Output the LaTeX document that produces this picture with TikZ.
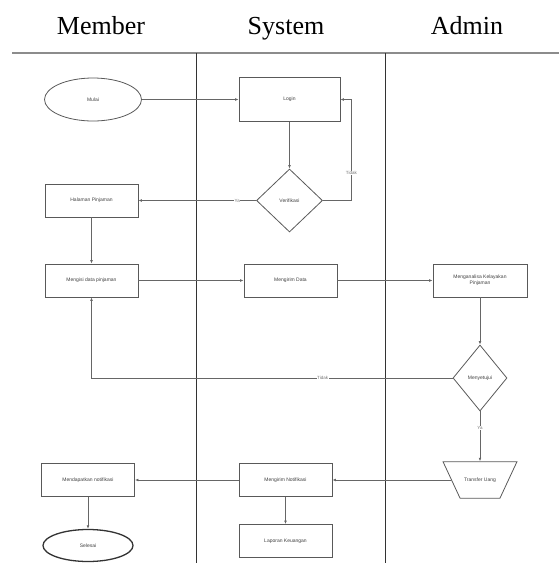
\documentclass[tikz,border=0pt]{standalone}
\usepackage{fontspec}
\setmainfont{Liberation Serif}
\newfontfamily\boxfont{Liberation Sans}
\usetikzlibrary{arrows.meta,positioning,shapes.geometric}

\begin{document}
\begin{tikzpicture}[x=1pt,y=-1pt,on grid,
    font=\boxfont\fontsize{5}{6}\selectfont,
    proses/.style={draw=black!65,line width=.8pt,text=black!75,minimum width=93pt,minimum height=33pt,align=center,inner sep=1pt},
    mulaiend/.style={ellipse,draw=black!65,line width=.8pt,text=black!75,minimum width=97pt,minimum height=43pt,inner sep=0pt},
    cek/.style={diamond,draw=black!65,line width=.8pt,text=black!75,inner sep=0pt},
    alur/.style={draw=black!60,line width=.7pt,-{Latex[length=3.5pt,width=2.8pt]}},
    lbl/.style={fill=white,text=black!55,inner sep=.5pt,font=\boxfont\fontsize{4.5}{5}\selectfont},
    lane/.style={font=\fontsize{26}{30}\selectfont,text=black,anchor=base}]
  \useasboundingbox (0,0) rectangle (559,563);

  \node[lane] (hm) at (101,34) {Member};
  \node[lane] (hs) at (286,34) {System};
  \node[lane] (ha) at (467,34) {Admin};
  \draw[black!45,line width=2pt] (12,53) -- (559,53);
  \draw[black!80,line width=.7pt] (196,53) -- (196,563) (385,53) -- (385,563);

  \node[mulaiend] (mulai) at (93,99.5) {Mulai};
  \node[proses,minimum width=101pt,minimum height=44pt,right=196.5pt of mulai] (login) {Login};
  \node[cek,minimum width=66pt,minimum height=63pt,below=101pt of login] (verif) {Verifikasi};
  \node[proses,left=198pt of verif] (hal) {Halaman Pinjaman};
  \node[proses,below=80pt of hal] (isi) {Mengisi data pinjaman};
  \node[proses,right=199pt of isi] (kirim) {Mengirim Data};
  \node[proses,minimum width=94pt,right=189.5pt of kirim] (analisa) {Menganalisa Kelayakan\\Pinjaman};
  \node[cek,minimum width=54pt,minimum height=66pt,below=97.5pt of analisa] (setuju) {Menyetujui};
  \node[trapezium,shape border rotate=180,trapezium angle=65,draw=black!65,line width=.8pt,text=black!75,inner xsep=4pt,inner ysep=16pt,below=102pt of setuju] (transfer) {Transfer Uang};
  \node[proses,left=194.5pt of transfer] (notif) {Mengirim Notifikasi};
  \node[proses,below=61pt of notif] (lapor) {Laporan Keuangan};
  \node[proses,left=197.5pt of notif] (dapat) {Mendapatkan notifikasi};
  \node[mulaiend,minimum width=90pt,minimum height=32pt,line width=1.3pt,draw=black!80,below=65.5pt of dapat] (selesai) {Selesai};

  \draw[alur] (mulai) -- (login);
  \draw[alur] (login) -- (verif);
  \draw[alur] (verif.east) -- ++(28.5,0) |- node[lbl,pos=.135]{Tidak} (login.east);
  \draw[alur] (verif) -- node[lbl,pos=.16]{Ya} (hal);
  \draw[alur] (hal) -- (isi);
  \draw[alur] (isi) -- (kirim);
  \draw[alur] (kirim) -- (analisa);
  \draw[alur] (analisa) -- (setuju);
  \draw[alur] (setuju.west) -| node[lbl,pos=.18]{Tidak} (isi.south);
  \draw[alur] (setuju) -- node[lbl,pos=.33]{Ya} (transfer);
  \draw[alur] (transfer) -- (notif);
  \draw[alur] (notif) -- (lapor);
  \draw[alur] (notif) -- (dapat);
  \draw[alur] (dapat) -- (selesai);
\end{tikzpicture}
\end{document}
